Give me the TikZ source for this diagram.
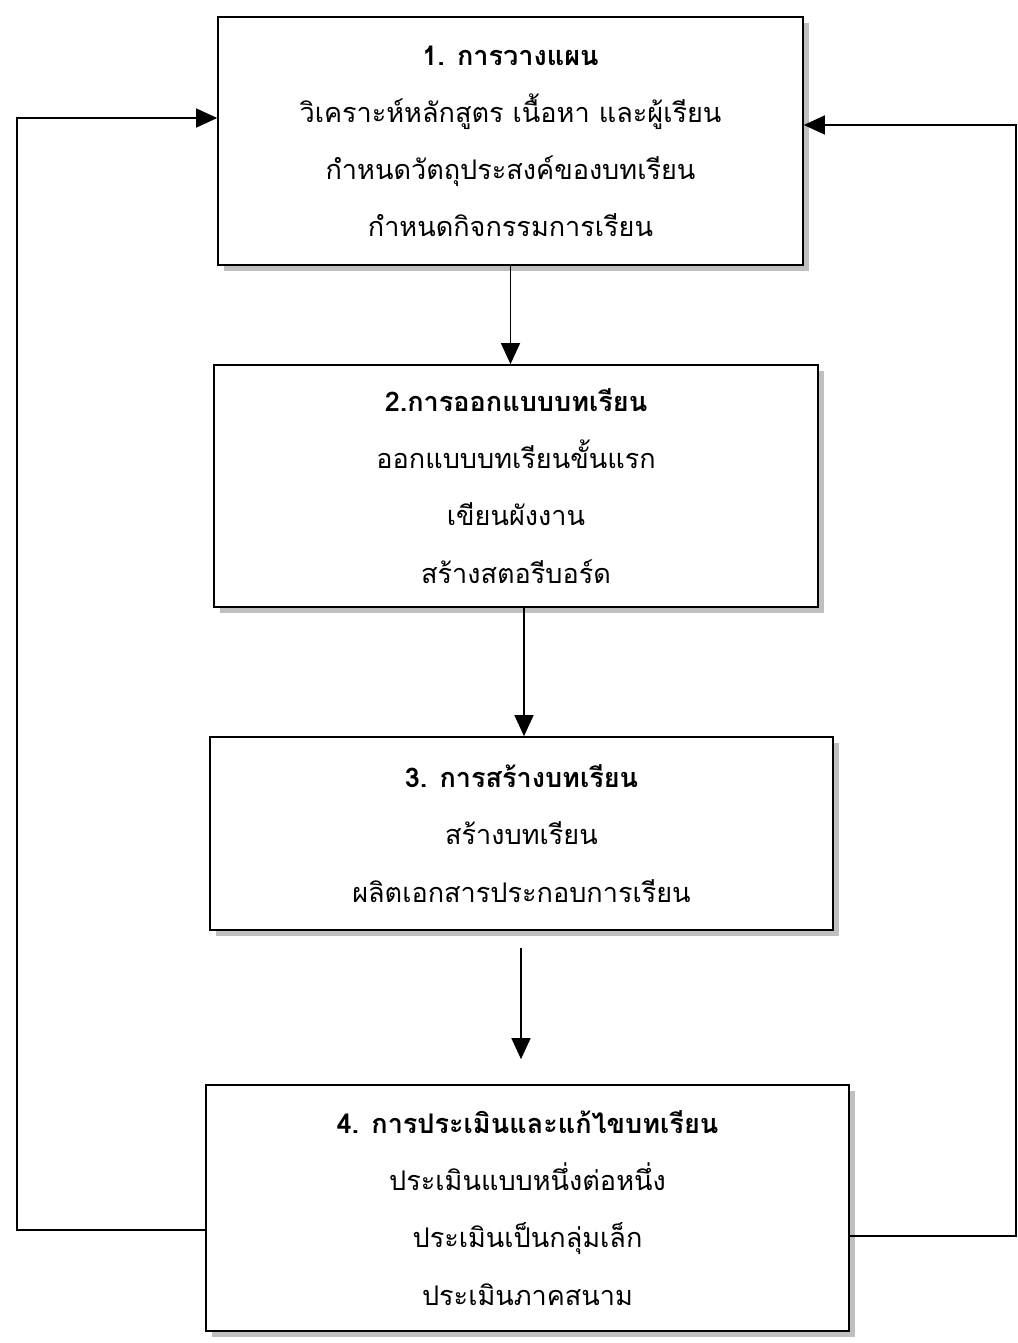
\documentclass[tikz,border=0pt]{standalone}
\usepackage{fontspec}
\newfontfamily\thaifont[Script=Thai]{Loma}
\usetikzlibrary{arrows.meta, shadows}

\begin{document}
\begin{tikzpicture}
        [
            x=0.02cm, y=-0.02cm,
            stage/.style = {draw, shape=rectangle, line width=1pt, fill=white, align=center, font=\thaifont\fontsize{15.4}{32.5}\selectfont, drop shadow={shadow xshift=0.12cm, shadow yshift=-0.12cm, fill=gray!50, opacity=1}},
            flow/.style = {-{Triangle[length=0.42cm, width=0.38cm]}, line width=0.8pt},
        ]
        \useasboundingbox (0,0) rectangle (1018,1343);

        \node[stage, minimum width=11.7cm, minimum height=4.96cm] (plan) at (510.5,141)
            {\textbf{1. การวางแผน}\\ วิเคราะห์หลักสูตร เนื้อหา และผู้เรียน\\ กำหนดวัตถุประสงค์ของบทเรียน\\ กำหนดกิจกรรมการเรียน};
        \node[stage, minimum width=12.08cm, minimum height=4.84cm] (design) at (516,486)
            {\textbf{2.การออกแบบบทเรียน}\\ ออกแบบบทเรียนขั้นแรก\\ เขียนผังงาน\\ สร้างสตอรีบอร์ด};
        \node[stage, minimum width=12.46cm, minimum height=3.86cm] (build) at (521.5,833.5)
            {\textbf{3. การสร้างบทเรียน}\\ สร้างบทเรียน\\ ผลิตเอกสารประกอบการเรียน};
        \node[stage, minimum width=12.86cm, minimum height=4.92cm] (evaluate) at (527.5,1208)
            {\textbf{4. การประเมินและแก้ไขบทเรียน}\\ ประเมินแบบหนึ่งต่อหนึ่ง\\ ประเมินเป็นกลุ่มเล็ก\\ ประเมินภาคสนาม};

        \coordinate (col2) at (524,607);
        \coordinate (gap3) at (521,948);
        \coordinate (lb) at (17,1230);
        \coordinate (lt) at (17,118);
        \coordinate (rb) at (1016,1236);
        \coordinate (rt) at (1016,125);

        \draw [flow] (plan.south) -- (plan.south |- design.north);
        \draw [flow] (design.south -| col2) -- (build.north -| col2);
        \draw [flow] (gap3) -- ([yshift=0.5cm]evaluate.north -| gap3);

        \draw [flow] (evaluate.west |- lb) -- (lb) -- (lt) -- (plan.west |- lt);
        \draw [flow] (evaluate.east |- rb) -- (rb) -- (rt) -- (plan.east |- rt);
    \end{tikzpicture}
\end{document}
